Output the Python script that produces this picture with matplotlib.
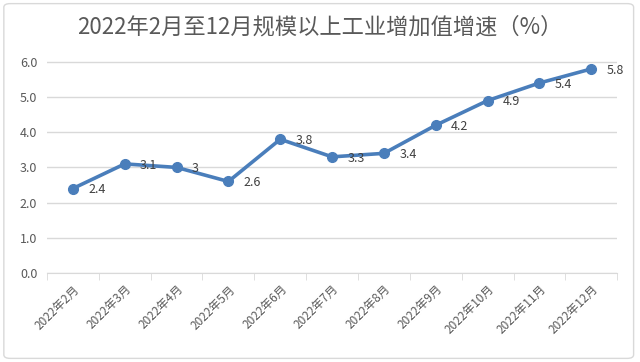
import matplotlib.pyplot as plt
from matplotlib.patches import FancyBboxPatch

plt.rcParams['font.family'] = ['Noto Sans CJK SC', 'DejaVu Sans']

months = ['2022年2月', '2022年3月', '2022年4月', '2022年5月', '2022年6月', '2022年7月',
          '2022年8月', '2022年9月', '2022年10月', '2022年11月', '2022年12月']
growth = [2.4, 3.1, 3.0, 2.6, 3.8, 3.3, 3.4, 4.2, 4.9, 5.4, 5.8]
labels = ['2.4', '3.1', '3', '2.6', '3.8', '3.3', '3.4', '4.2', '4.9', '5.4', '5.8']

fig = plt.figure(figsize=(6.4, 3.62), dpi=100)
# chart border
fig.patches.append(FancyBboxPatch((0.006, 0.01), 0.984, 0.98, boxstyle='round,pad=0,rounding_size=0.01',
                                  transform=fig.transFigure, fill=False, ec='#d9d9d9', lw=1))
ax = fig.add_axes([0.0734, 0.246, 0.891, 0.585])

x = list(range(len(months)))
ax.plot(x, growth, color='#4a7ebb', lw=2.6, marker='o', ms=7, zorder=3)
for xi, v, t in zip(x, growth, labels):
    ax.annotate(t, (xi, v), xytext=(11, -1), textcoords='offset points',
                fontsize=9, color='#404040', va='center', ha='left')

ax.set_xlim(-0.5, len(months) - 0.5)
ax.set_ylim(0, 6.02)
ax.set_yticks([0, 1, 2, 3, 4, 5, 6])
ax.set_yticklabels(['%.1f' % v for v in [0, 1, 2, 3, 4, 5, 6]])
ax.grid(axis='y', color='#d9d9d9', lw=1)
ax.set_axisbelow(True)
for s in ['left', 'right', 'top']:
    ax.spines[s].set_visible(False)
ax.spines['bottom'].set_color('#d9d9d9')
ax.tick_params(axis='y', length=0, labelsize=9, labelcolor='#595959', pad=7)

ax.set_xticks(x)
ax.set_xticklabels(months, rotation=45, ha='right', rotation_mode='anchor',
                   fontsize=8.5, color='#595959')
ax.tick_params(axis='x', which='major', length=0, pad=7)
ax.set_xticks([i - 0.5 for i in range(len(months) + 1)], minor=True)
ax.tick_params(axis='x', which='minor', length=5, color='#d9d9d9')

fig.text(0.5, 0.925, '2022年2月至12月规模以上工业增加值增速（%）', ha='center', va='center',
         fontsize=16, color='#595959')

fig.savefig('out.png', dpi=100)
